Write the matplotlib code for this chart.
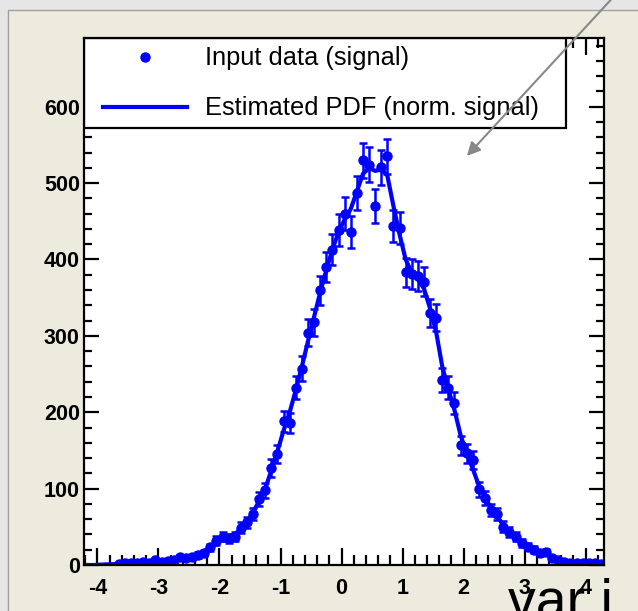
import numpy as np
import matplotlib
matplotlib.use('Agg')
import matplotlib.pyplot as plt
from matplotlib.patches import Rectangle
from matplotlib.ticker import MultipleLocator

plt.rcParams['font.family'] = ['Liberation Sans', 'DejaVu Sans']
plt.rcParams['axes.unicode_minus'] = False

# signal histogram of var i: 85 bins between -4.2 and 4.3
x_lo, x_hi, n_bins = -4.2, 4.3, 85
counts = [0, 0, 0, 0, 0, 1, 3, 2, 3, 4,
          3, 6, 4, 5, 7, 10, 9, 10, 13, 16,
          23, 32, 37, 35, 37, 49, 56, 67, 86, 98,
          127, 145, 188, 186, 232, 257, 304, 318, 360, 390,
          413, 438, 460, 436, 487, 530, 524, 470, 521, 535,
          444, 441, 383, 381, 378, 371, 330, 324, 242, 232,
          212, 157, 146, 138, 99, 88, 72, 67, 50, 43,
          37, 29, 24, 20, 16, 17, 9, 6, 4, 3,
          2, 3, 2, 2, 1]
# estimated PDF (normalised to signal) at the bin centres
pdf = [0, 0, 0.5, 0.8, 1, 1.5, 2, 2.5, 3, 3.5,
       4, 4.5, 5, 6, 7, 8.5, 10, 11.5, 14, 18,
       24, 30, 35, 37, 40, 48, 57, 69, 84, 100,
       124, 149, 176, 200, 229, 260, 293, 325, 357, 386,
       413, 436, 452, 466, 489, 512, 520, 516, 518, 510,
       470, 433, 400, 383, 374, 362, 336, 305, 260, 230,
       203, 170, 146, 126, 104, 88, 75, 64, 52, 43,
       36, 30, 24, 20, 16, 14, 10, 7, 5, 3.5,
       2.5, 2, 1.5, 1.2, 1]

centers = x_lo + (np.arange(n_bins) + 0.5) * (x_hi - x_lo) / n_bins
counts = np.array(counts, dtype=float)
errs = np.sqrt(counts)
nz = counts > 0

W, H = 638, 611
fig = plt.figure(figsize=(W / 100, H / 100), dpi=100, facecolor='#e6e6e6')
fig.add_artist(Rectangle((8 / W, -0.01), 1, 1 - 10 / H + 0.01, transform=fig.transFigure,
                         facecolor='#ecebdd', edgecolor='#a0a0a0', lw=1, zorder=-5))

ax = fig.add_axes([84 / W, 1 - 565 / H, 520 / W, 527 / H])
ax.set_facecolor('white')

blue = '#0000ff'
ax.plot(centers, pdf, color=blue, lw=3, zorder=2)
ax.errorbar(centers[nz], counts[nz], yerr=errs[nz], fmt='o', color=blue, ms=6.5,
            elinewidth=1.8, capsize=3.2, capthick=1.8, zorder=2.1)

ax.set_xlim(-4.22, 4.3)
ax.set_ylim(0, 690)
ax.xaxis.set_major_locator(MultipleLocator(1))
ax.xaxis.set_minor_locator(MultipleLocator(0.2))
ax.yaxis.set_major_locator(MultipleLocator(100))
ax.yaxis.set_minor_locator(MultipleLocator(20))
ax.tick_params(which='both', direction='in', top=True, right=True, width=1.6, colors='black')
ax.tick_params(axis='x', which='major', length=12, pad=9)
ax.tick_params(axis='x', which='minor', length=7)
ax.tick_params(axis='y', which='major', length=11, pad=3)
ax.tick_params(axis='y', which='minor', length=5.5)
for lab in ax.get_xticklabels() + ax.get_yticklabels():
    lab.set_fontweight('bold')
    lab.set_fontsize(15.5)
for sp in ax.spines.values():
    sp.set_linewidth(1.6)

# legend box (ROOT style, inside the frame)
ax.add_patch(Rectangle((0, 0.829), 0.927, 0.171, transform=ax.transAxes,
                       facecolor='white', edgecolor='black', lw=1.6, zorder=2.2))
ax.plot([0.117], [0.964], 'o', color=blue, ms=6.5, transform=ax.transAxes, zorder=3)
ax.text(0.233, 0.962, 'Input data (signal)', transform=ax.transAxes, fontsize=18.3,
        va='center', ha='left', zorder=3)
ax.plot([0.037, 0.198], [0.869, 0.869], color=blue, lw=3, transform=ax.transAxes, zorder=3)
ax.text(0.233, 0.867, 'Estimated PDF (norm. signal)', transform=ax.transAxes, fontsize=18.3,
        va='center', ha='left', zorder=3)

fig.text(508 / W, -7 / H, 'var i', fontsize=40, va='baseline', ha='left')

ax.annotate('', xy=(465 / W, 1 - 158 / H), xycoords='figure fraction',
            xytext=(618 / W, 1 + 8 / H), textcoords='figure fraction',
            arrowprops=dict(arrowstyle='-|>', color='#888888', lw=1.5, mutation_scale=20),
            annotation_clip=False, zorder=5)

fig.savefig('out.png', dpi=100, facecolor=fig.get_facecolor())
